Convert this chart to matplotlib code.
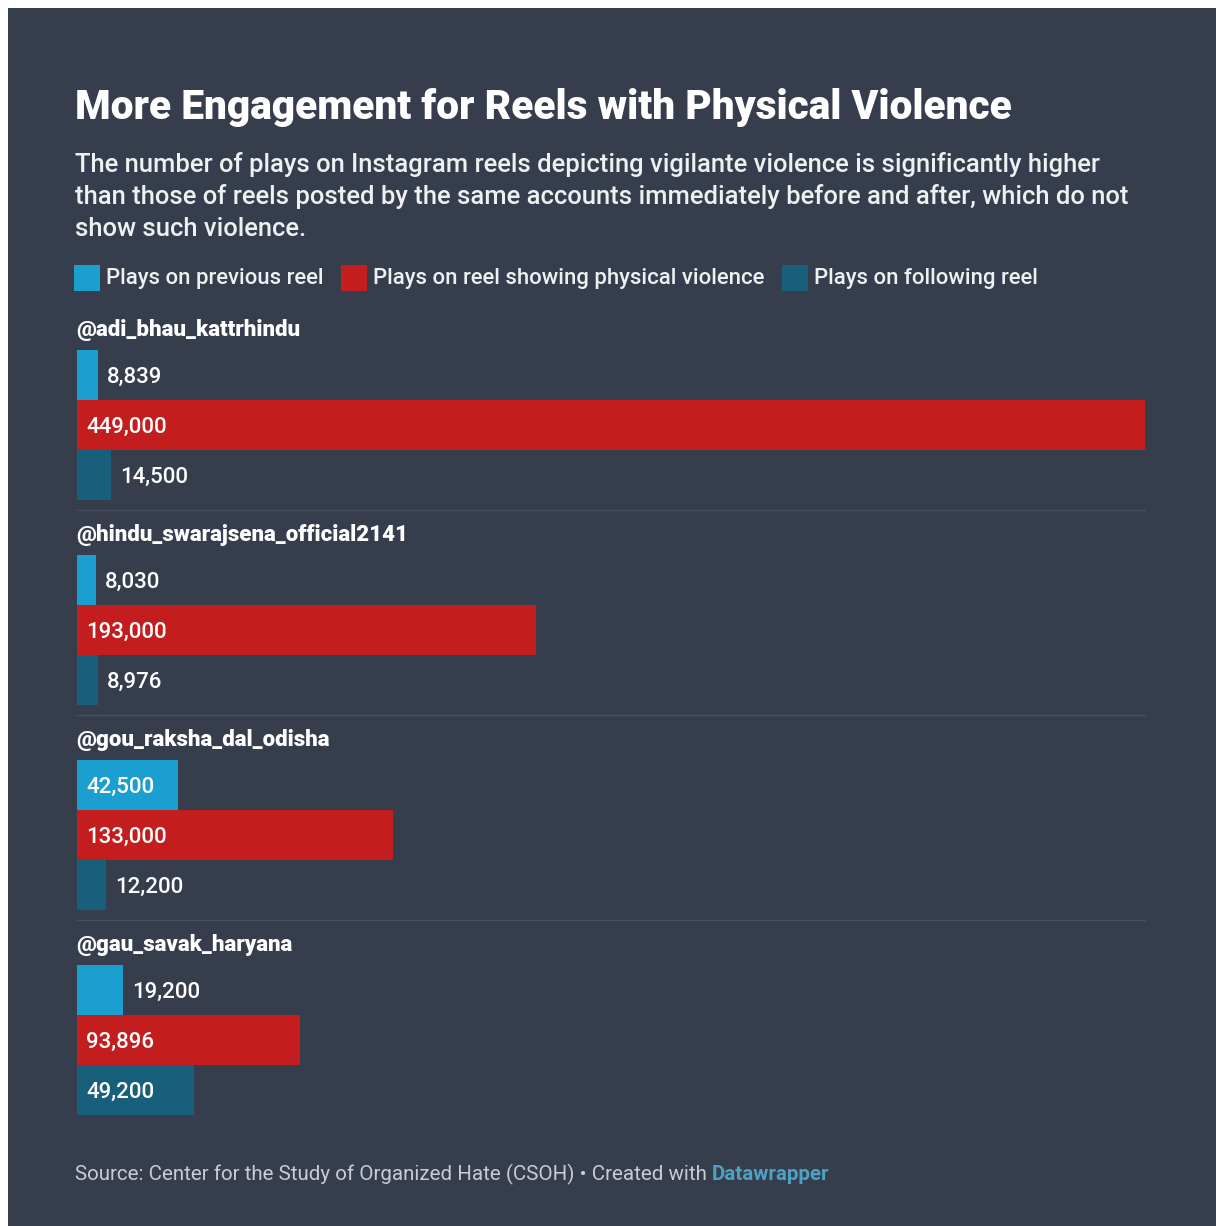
import matplotlib
matplotlib.use("Agg")
import matplotlib.pyplot as plt
from matplotlib.patches import Rectangle
from matplotlib.lines import Line2D

# ---- data ----
accounts = ["@adi_bhau_kattrhindu", "@hindu_swarajsena_official2141",
            "@gou_raksha_dal_odisha", "@gau_savak_haryana"]
series_names = ["Plays on previous reel", "Plays on reel showing physical violence",
                "Plays on following reel"]
previous = [8839, 8030, 42500, 19200]
violence = [449000, 193000, 133000, 93896]
following = [14500, 8976, 12200, 49200]

title = "More Engagement for Reels with Physical Violence"
subtitle = ["The number of plays on Instagram reels depicting vigilante violence is significantly higher",
            "than those of reels posted by the same accounts immediately before and after, which do not",
            "show such violence."]
source = "Source: Center for the Study of Organized Hate (CSOH) \u2022 Created with "
brand = "Datawrapper"

# ---- style ----
W, H = 1216, 1226
BG = "#363e4d"
COLORS = ["#1a9fd0", "#c41d1e", "#185f7c"]
plt.rcParams["font.family"] = ["Roboto", "DejaVu Sans"]

fig = plt.figure(figsize=(W / 100, H / 100), dpi=100, facecolor="white")

def fx(px):
    return px / W

def fy(py):
    return 1 - py / H

fig.patches.append(Rectangle((fx(8), 0), 1 - fx(8), fy(8), transform=fig.transFigure,
                             facecolor=BG, edgecolor="none", zorder=-10))

X0, X1 = 77, 1145
vmax = max(violence)
ax = fig.add_axes([0, 0, 1, 1])
ax.set_facecolor("none")
ax.set_zorder(5)
scale = vmax / (X1 - X0)
ax.set_xlim(-X0 * scale, (W - X0) * scale)
ax.set_ylim(H, 0)
ax.axis("off")

# title / subtitle
fig.text(fx(75), fy(119), title, fontsize=29.25, fontweight="black", color="white", va="baseline")
for i, line in enumerate(subtitle):
    fig.text(fx(75), fy(172 + i * 32), line, fontsize=18.45, fontweight="medium",
             color="#eef0f2", va="baseline")

# legend
leg_x = [74, 341, 782]
for c, name, lx in zip(COLORS, series_names, leg_x):
    fig.patches.append(Rectangle((fx(lx), fy(291)), fx(26), 26 / H, transform=fig.transFigure,
                                 facecolor=c, edgecolor="none"))
    fig.text(fx(lx + 32), fy(284), name, fontsize=15.9, fontweight="medium",
             color="#eef0f2", va="baseline")

# bars
BAR_H = 49.5
GROUP = 205
all_series = [previous, violence, following]
for g, acc in enumerate(accounts):
    top = 350 + g * GROUP
    fig.text(fx(76), fy(top - 14), acc, fontsize=16, fontweight="black", color="white",
             va="baseline")
    for k, (vals, c) in enumerate(zip(all_series, COLORS)):
        yc = top + k * 50 + 25
        v = vals[g]
        ax.barh(yc, v, height=BAR_H, left=0, color=c, edgecolor="none")
        label = f"{v:,}"
        width_px = v / scale
        ty = yc + 2
        if width_px > 95:
            ax.text(9 * scale, ty, label, fontsize=16, fontweight="medium",
                    color="white", va="center", ha="left")
        else:
            ax.text(v + 9 * scale, ty, label, fontsize=16, fontweight="medium",
                    color="white", va="center", ha="left")
    if g < len(accounts) - 1:
        ysep = top + 160
        ax.add_line(Line2D([0, vmax], [ysep, ysep], color="#485062", lw=1))

# source
t = fig.text(fx(75), fy(1180), source, fontsize=14.75, color="#c9cdd3", va="baseline")
fig.canvas.draw()
bb = t.get_window_extent()
fig.text(bb.x1 / W, fy(1180), brand, fontsize=14.75, color="#4aa3c4", fontweight="bold", va="baseline")

fig.savefig("out.png", dpi=100, facecolor="white")
